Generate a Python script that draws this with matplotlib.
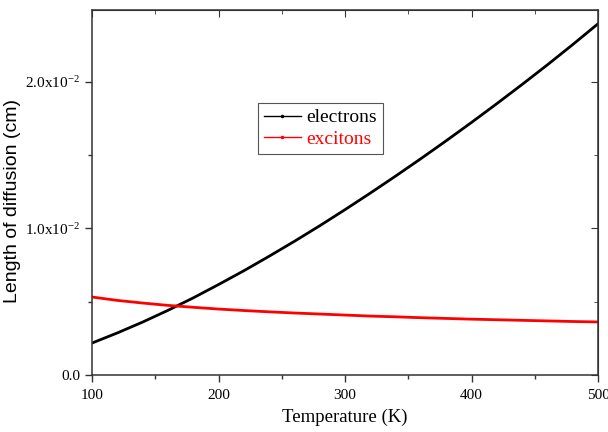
import matplotlib.pyplot as plt
from matplotlib.lines import Line2D
from matplotlib.ticker import FuncFormatter, MultipleLocator

# temperature grid (K) and diffusion lengths (cm)
temperature = [100, 120, 140, 160, 180, 200, 220, 240, 260, 280, 300,
               320, 340, 360, 380, 400, 420, 440, 460, 480, 500]
electrons = [0.00218, 0.00287, 0.00361, 0.00441, 0.00526, 0.00617, 0.00711,
             0.00810, 0.00912, 0.01018, 0.01128, 0.01241, 0.01357, 0.01476,
             0.01598, 0.01723, 0.01851, 0.01982, 0.02116, 0.02254, 0.02396]
excitons = [0.00532, 0.00509, 0.00491, 0.00475, 0.00462, 0.00450, 0.00440,
            0.00431, 0.00423, 0.00416, 0.00409, 0.00402, 0.00397, 0.00391,
            0.00386, 0.00381, 0.00377, 0.00373, 0.00369, 0.00365, 0.00362]

serif = "Liberation Serif"
plt.rcParams["font.family"] = serif

fig = plt.figure(figsize=(6.08, 4.32), dpi=100)
ax = fig.add_axes([0.1513, 0.1319, 0.8323, 0.8450])

ax.plot(temperature, electrons, color="black", lw=2.0)
ax.plot(temperature, excitons, color="red", lw=2.0)

ax.set_xlim(100, 500)
ax.set_ylim(0, 0.0249)
ax.xaxis.set_major_locator(MultipleLocator(100))
ax.xaxis.set_minor_locator(MultipleLocator(50))
ax.yaxis.set_major_locator(MultipleLocator(0.01))
ax.yaxis.set_minor_locator(MultipleLocator(0.005))


def yfmt(v, pos):
    if abs(v) < 1e-12:
        return "0.0"
    return r"$\mathregular{%.1fx10^{-2}}$" % (v * 100)


ax.yaxis.set_major_formatter(FuncFormatter(yfmt))
ax.tick_params(which="major", direction="out", length=5, width=1, labelsize=11,
               color="#333333")
ax.tick_params(which="minor", direction="out", length=3, width=1, color="#333333")
ax.tick_params(axis="x", pad=5)
for s in ax.spines.values():
    s.set_linewidth(1.1)
    s.set_color("#333333")

# mirrored ticks pointing inward on top and right
top = ax.secondary_xaxis("top")
top.xaxis.set_major_locator(MultipleLocator(100))
top.xaxis.set_minor_locator(MultipleLocator(50))
top.tick_params(which="major", direction="in", length=5, labeltop=False, color="#333333")
top.tick_params(which="minor", direction="in", length=3, color="#333333")
right = ax.secondary_yaxis("right")
right.yaxis.set_major_locator(MultipleLocator(0.01))
right.yaxis.set_minor_locator(MultipleLocator(0.005))
right.tick_params(which="major", direction="in", length=5, labelright=False, color="#333333")
right.tick_params(which="minor", direction="in", length=3, color="#333333")
for sec in (top, right):
    for s in sec.spines.values():
        s.set_color("#333333")

ax.set_xlabel("Temperature (K)", fontsize=13.5, labelpad=5)
ax.set_ylabel("Length of diffusion (cm)", fontsize=14, family="Liberation Sans")
ax.yaxis.set_label_coords(-0.14, 0.477)

handles = [Line2D([], [], color="black", lw=1, marker=".", ms=3),
           Line2D([], [], color="red", lw=1, marker=".", ms=3)]
leg = ax.legend(handles, ["electrons", "excitons"], loc="upper left",
                bbox_to_anchor=(258 / 608, 1 - 103 / 432), bbox_transform=fig.transFigure,
                fancybox=False, edgecolor="#555555", fontsize=14, handlelength=1.9,
                handletextpad=0.3, borderaxespad=0, framealpha=1, labelspacing=0.2,
                borderpad=0.3)
leg.get_frame().set_linewidth(0.8)
leg.get_texts()[1].set_color("red")

fig.savefig("out.png", dpi=100)
